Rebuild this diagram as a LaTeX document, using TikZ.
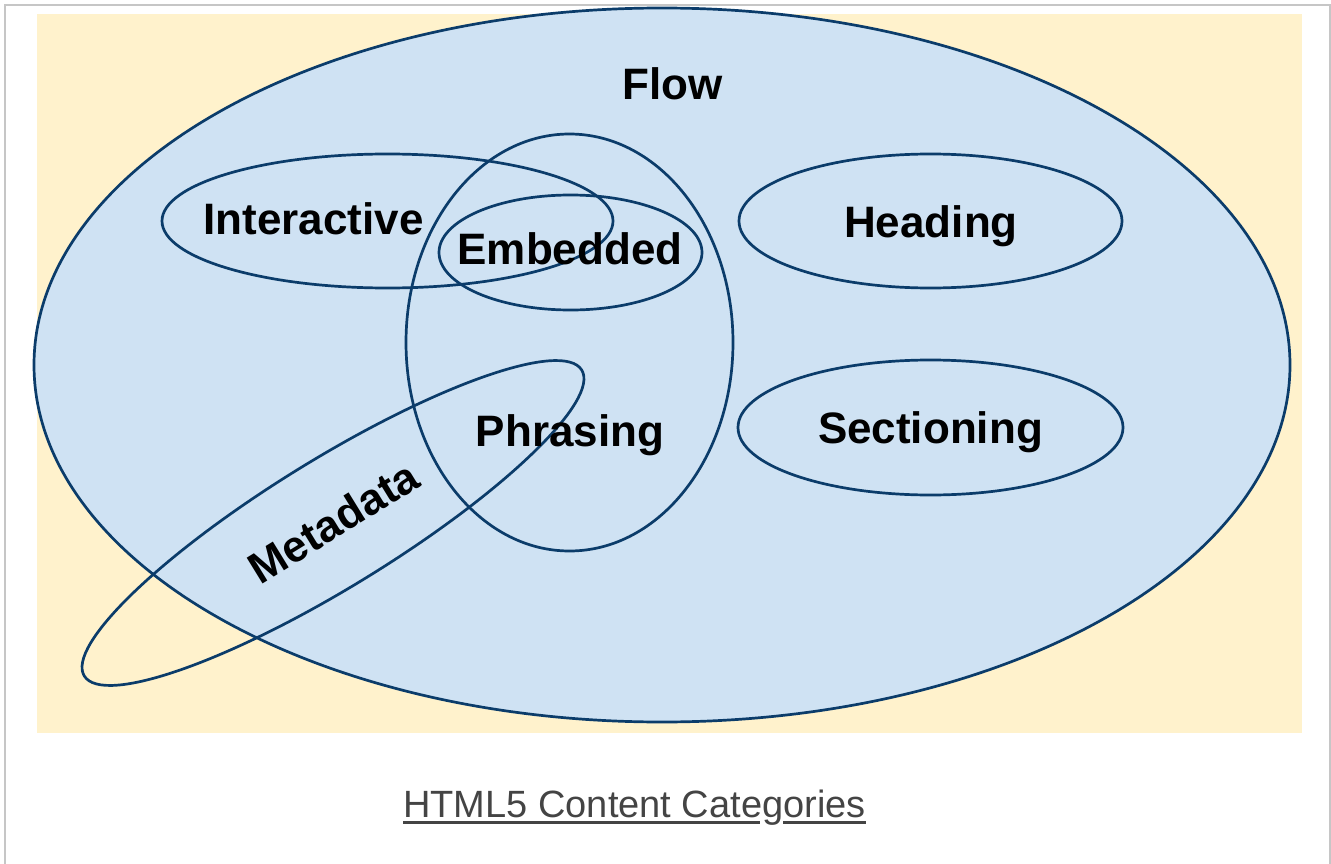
\documentclass[tikz,border=0pt]{standalone}
\usepackage{fontspec}
\setmainfont{Liberation Sans}
\definecolor{flowfill}{HTML}{CFE2F3}
\definecolor{bgyellow}{HTML}{FFF2CC}
\definecolor{strokeblue}{HTML}{0B3C6A}
\definecolor{captiongray}{HTML}{444444}
\definecolor{framegray}{HTML}{C6C6C6}
\tikzset{
  setline/.style={draw=strokeblue, line width=2.7pt},
  setlabel/.style={inner sep=0pt, outer sep=0pt, text=black, font=\fontsize{44}{50}\selectfont\bfseries},
  baselabel/.style={setlabel, anchor=base},
  captionlabel/.style={inner sep=0pt, outer sep=0pt, anchor=base, text=captiongray, font=\fontsize{38}{44}\selectfont}
}
\begin{document}
\begin{tikzpicture}[x=1pt, y=-1pt]
\useasboundingbox (0,0) rectangle (1331,864);
% outer frame
\draw[framegray, line width=2pt] (4.5,864) -- (4.5,5) -- (1330,5) -- (1330,864);
% background
\fill[bgyellow] (37.3,14.3) rectangle (1302,733);
% Flow
\filldraw[fill=flowfill, setline] (662,365) ellipse [x radius=628, y radius=357];
% inner sets
\draw[setline] (387.5,221) ellipse [x radius=225.5, y radius=67];
\draw[setline] (570.5,252.5) ellipse [x radius=131.5, y radius=57.5];
\draw[setline] (569.5,342.5) ellipse [x radius=163.5, y radius=208.5];
\draw[setline] (930.5,221) ellipse [x radius=191.5, y radius=67];
\draw[setline] (930.5,427.5) ellipse [x radius=192.5, y radius=67.5];
\draw[setline, rotate around={31.6:(333,523)}] (333,523) ellipse [x radius=292, y radius=64];
% labels
\node[baselabel] (flow) at (672.5,100) {Flow};
\node[baselabel] (interactive) at (313.5,234.5) {Interactive};
\node[baselabel] (embedded) at (570,264) {Embedded};
\node[baselabel] (heading) at (931,237) {Heading};
\node[baselabel] (phrasing) at (570,446) {Phrasing};
\node[baselabel] (sectioning) at (930.5,443) {Sectioning};
\node[setlabel, anchor=center, rotate=31.6] (metadata) at (333,522) {Metadata};
% caption
\node[captionlabel] (caption) at (634.5,817) {HTML5 Content Categories};
\coordinate (ul1) at (403,822.5);
\coordinate (ul2) at (760,822.5);
\coordinate (ul3) at (783,822.5);
\coordinate (ul4) at (866,822.5);
\draw[captiongray, line width=3pt] (ul1) -- (ul2) (ul3) -- (ul4);
\end{tikzpicture}
\end{document}
